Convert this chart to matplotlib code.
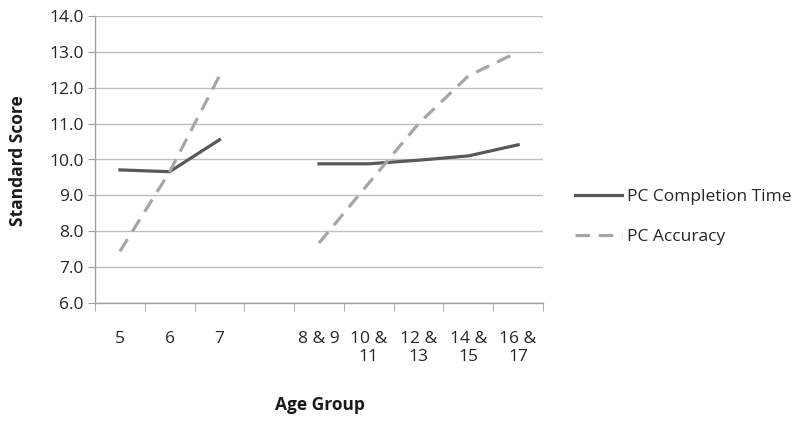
import numpy as np
import matplotlib
matplotlib.use("Agg")
import matplotlib.pyplot as plt

categories = ["5", "6", "7", "", "8 & 9", "10 &\n11", "12 &\n13", "14 &\n15", "16 &\n17"]
completion_time = [9.71, 9.66, 10.55, None, 9.88, 9.88, 9.98, 10.1, 10.41]
accuracy = [7.44, 9.66, 12.33, None, 7.67, 9.34, 11.0, 12.33, 13.0]
y_ticks = [6.0, 7.0, 8.0, 9.0, 10.0, 11.0, 12.0, 13.0, 14.0]

plt.rcParams['font.family'] = ['Open Sans', 'DejaVu Sans']
FS = 12.5

fig = plt.figure(figsize=(8, 4.21), dpi=100)
W, H = 800, 421
ax = fig.add_axes([95 / W, 1 - 303 / H, 448 / W, 287 / H])

x = np.arange(len(categories))
ct = np.array([np.nan if v is None else v for v in completion_time], dtype=float)
ac = np.array([np.nan if v is None else v for v in accuracy], dtype=float)

ax.plot(x, ct, color='#595959', lw=2.3, label='PC Completion Time', zorder=3)
ax.plot(x, ac, color='#A6A6A6', lw=2.3, ls=(0, (4.5, 2.8)), label='PC Accuracy', zorder=3)

ax.set_xlim(-0.5, len(categories) - 0.5)
ax.set_ylim(6, 14)
ax.set_yticks(y_ticks)
ax.set_yticklabels([f"{v:.1f}" for v in y_ticks])
ax.set_xticks(x)
ax.set_xticklabels(categories, linespacing=1.2)
ax.set_xticks(np.arange(-0.5, len(categories), 1.0), minor=True)

ax.grid(axis='y', color='#BFBFBF', lw=1.0)
ax.set_axisbelow(True)
for s in ['top', 'right']:
    ax.spines[s].set_visible(False)
for s in ['left', 'bottom']:
    ax.spines[s].set_color('#A0A0A0')
    ax.spines[s].set_linewidth(1.0)

ax.tick_params(axis='x', which='major', length=0, pad=20, labelsize=FS, colors='#262626')
ax.tick_params(axis='x', which='minor', length=6, color='#A0A0A0', direction='out')
ax.tick_params(axis='y', which='major', length=5, color='#A0A0A0', pad=3, labelsize=FS, labelcolor='#262626')

fig.text(18 / W, 1 - 161 / H, "Standard Score", rotation=90, ha='center', va='center',
         fontsize=FS, fontweight='bold', color='#1a1a1a')
fig.text(320 / W, 1 - 405 / H, "Age Group", ha='center', va='center',
         fontsize=FS, fontweight='bold', color='#1a1a1a')

fig.legend(loc='center left', bbox_to_anchor=(559 / W, 1 - 217 / H), frameon=False,
           fontsize=FS, handlelength=2.7, handletextpad=0.3, labelspacing=1.4,
           labelcolor='#262626')

fig.savefig("out.png", dpi=100)
